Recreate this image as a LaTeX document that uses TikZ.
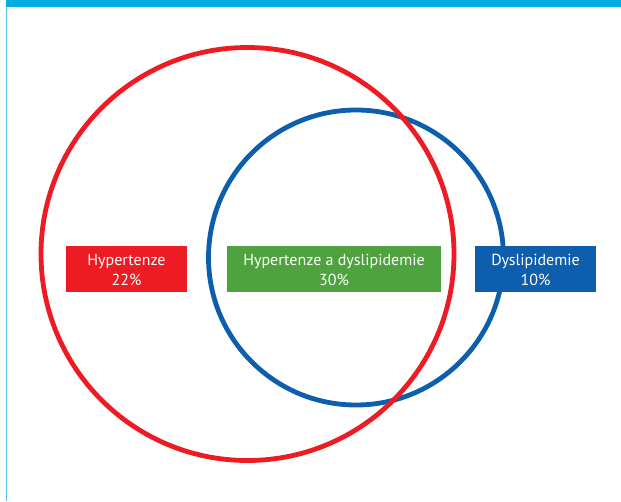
\documentclass[tikz,border=0pt]{standalone}
\usepackage{fontspec}
\setmainfont{PT Sans}
\definecolor{barcyan}{RGB}{0,174,223}
\definecolor{linecyan}{RGB}{80,195,232}
\definecolor{vred}{RGB}{237,28,36}
\definecolor{vblue}{RGB}{13,94,173}
\definecolor{vgreen}{RGB}{78,163,62}
\tikzset{
  setcircle/.style={line width=4.8pt},
  labelbox/.style={draw=none, text=white, align=center, inner sep=0pt,
    font=\fontsize{16}{20.5}\selectfont, text depth=0pt}
}
\begin{document}
\begin{tikzpicture}[x=1pt,y=-1pt]
\useasboundingbox (0,0) rectangle (621,501);
\fill[white] (0,0) rectangle (621,501);
% frame
\fill[barcyan] (5.5,0) rectangle (621,7);
\fill[linecyan] (5.5,7) rectangle (7.2,501);
% circles
\draw[setcircle, vblue] (356,257.5) circle[radius=147.5];
\draw[setcircle, vred] (247.5,254) circle[radius=206.5];
% boxes
\fill[vred] (66,246) rectangle (187,292);
\fill[vgreen] (227,246) rectangle (441,292);
\fill[vblue] (475,246) rectangle (596,292);
\node[labelbox] (hyp) at (126.5,270) {Hypertenze\\22\%};
\node[labelbox] (both) at (334,270) {Hypertenze a dyslipidemie\\30\%};
\node[labelbox] (dys) at (535.5,270) {Dyslipidemie\\10\%};
\end{tikzpicture}
\end{document}
